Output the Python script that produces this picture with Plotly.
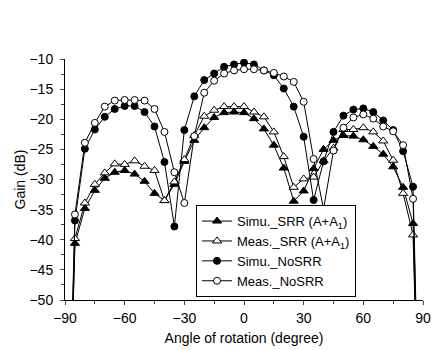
import plotly.graph_objects as go

angles = [-90, -85, -80, -75, -70, -65, -60, -55, -50, -45, -40, -35, -30, -25, -20, -15, -10, -5,
          0, 5, 10, 15, 20, 25, 30, 35, 40, 45, 50, 55, 60, 65, 70, 75, 80, 85, 90]

simu_srr = [-100, -40.6, -34.8, -31.8, -29.8, -28.8, -28.5, -29.1, -30.3, -32.3, -33.5, -30.8, -27.0,
            -23.5, -21.4, -19.7, -18.9, -18.8, -18.9, -19.9, -21.6, -24.3, -28.1, -33.6, -31.9,
            -28.2, -25.0, -23.5, -22.7, -22.8, -23.4, -24.5, -25.8, -27.9, -31.3, -37.3, -100]
meas_srr = [-100, -39.8, -33.9, -30.8, -28.9, -27.4, -27.5, -26.9, -27.8, -28.5, -33.5, -30.4, -26.7,
            -22.7, -19.5, -18.5, -17.9, -17.9, -17.9, -18.8, -19.6, -22.1, -26.2, -31.3, -29.9,
            -29.6, -26.9, -24.8, -21.7, -21.7, -21.4, -22.1, -23.6, -26.8, -32.3, -39.2, -100]
simu_nosrr = [-100, -36.8, -24.9, -21.7, -19.6, -18.3, -17.8, -17.8, -18.8, -21.2, -27.1, -37.8, -21.8,
              -16.2, -13.5, -12.4, -11.3, -10.9, -10.6, -10.9, -11.9, -12.7, -14.9, -17.9, -22.9,
              -33.4, -27.0, -22.1, -19.4, -18.4, -18.2, -18.8, -20.2, -21.8, -25.3, -31.2, -100]
meas_nosrr = [-100, -35.8, -23.9, -20.6, -17.9, -16.9, -16.8, -16.8, -16.9, -18.3, -22.1, -28.8, -33.9,
              -22.8, -15.6, -13.6, -12.4, -11.9, -11.7, -11.7, -11.9, -12.3, -12.9, -13.8, -17.1,
              -26.6, -34.9, -25.2, -21.4, -19.7, -19.2, -19.9, -21.2, -22.0, -24.3, -33.2, -100]

series_names = ["Simu._SRR (A+A<sub>1</sub>)", "Meas._SRR (A+A<sub>1</sub>)",
                "Simu._NoSRR", "Meas._NoSRR"]
x_ticks = [-90, -60, -30, 0, 30, 60, 90]
y_ticks = [-10, -15, -20, -25, -30, -35, -40, -45, -50]

styles = [("triangle-up", "black", 8), ("triangle-up", "white", 8),
          ("circle", "black", 7), ("circle", "white", 7)]

fig = go.Figure()
for name, vals, (sym, fill, sz) in zip(series_names, [simu_srr, meas_srr, simu_nosrr, meas_nosrr], styles):
    fig.add_trace(go.Scatter(
        x=angles, y=vals, name=name, mode="lines+markers",
        line=dict(color="black", width=1),
        marker=dict(symbol=sym, color=fill, size=sz, line=dict(color="black", width=1)),
        cliponaxis=True,
    ))

font = "Arial, Liberation Sans, sans-serif"
fig.update_layout(
    width=433, height=350,
    margin=dict(l=65, r=10, t=59, b=50, autoexpand=False),
    paper_bgcolor="white", plot_bgcolor="white",
    font=dict(family=font, size=13, color="black"),
    showlegend=True,
    legend=dict(x=0.366, y=0.012, xanchor="left", yanchor="bottom",
                bordercolor="black", borderwidth=1, bgcolor="white",
                font=dict(size=13), tracegroupgap=0, itemwidth=30),
    xaxis=dict(range=[-90, 90], tickvals=x_ticks, ticks="outside", ticklen=4,
               showline=True, linecolor="black", linewidth=1, showgrid=False, zeroline=False,
               automargin=False,
               minor=dict(ticks="outside", ticklen=3, dtick=15, tick0=-90, showgrid=False),
               title=dict(text="Angle of rotation (degree)", standoff=8, font=dict(size=14)),
               tickfont=dict(size=14), ticklabelstandoff=1),
    yaxis=dict(range=[-50, -10], tickvals=y_ticks, ticks="outside", ticklen=4,
               showline=True, linecolor="black", linewidth=1, showgrid=False, zeroline=False,
               automargin=False,
               minor=dict(ticks="outside", ticklen=3, dtick=2.5, tick0=-50, showgrid=False),
               title=dict(text="Gain (dB)", standoff=0, font=dict(size=14)),
               tickfont=dict(size=14), ticklabelstandoff=4),
)

fig.write_html("out.html", config={"displayModeBar": False},
               post_script="document.body.style.margin='0';")
